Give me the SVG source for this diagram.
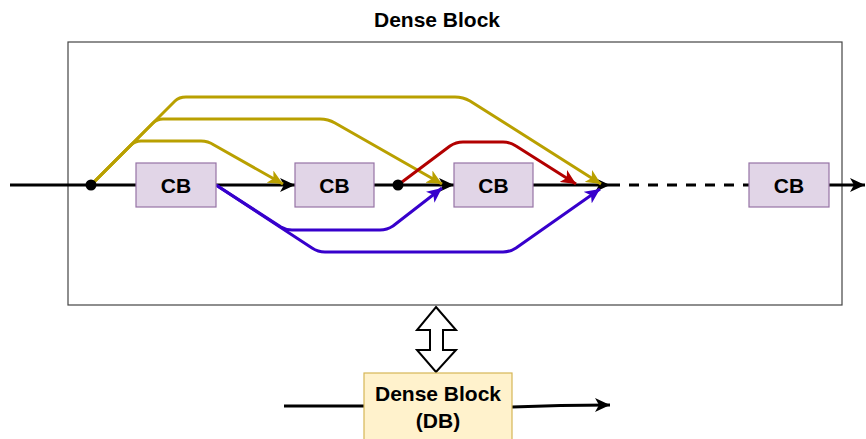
<svg xmlns="http://www.w3.org/2000/svg" width="866" height="439" viewBox="0 0 866 439">
<style>
.txt{font-family:"Liberation Sans",Arial,sans-serif;font-weight:bold;fill:#000;text-anchor:middle}
.cb{fill:#e1d5e7;stroke:#9673a6;stroke-width:1.2}
.k{fill:none;stroke:#000;stroke-width:3}
.y{fill:none;stroke:#b9a000;stroke-width:3;stroke-linejoin:round}
.r{fill:none;stroke:#b20000;stroke-width:3;stroke-linejoin:round}
.b{fill:none;stroke:#3700cc;stroke-width:3;stroke-linejoin:round}
</style>
<defs>
<marker id="ak" markerUnits="userSpaceOnUse" markerWidth="16" markerHeight="14" refX="15" refY="7" orient="auto"><path d="M0,0 L15,7 L0,14 L4,7 Z" fill="#000"/></marker>
<marker id="ay" markerUnits="userSpaceOnUse" markerWidth="16" markerHeight="14" refX="15" refY="7" orient="auto"><path d="M0,0 L15,7 L0,14 L4,7 Z" fill="#b9a000"/></marker>
<marker id="ar" markerUnits="userSpaceOnUse" markerWidth="16" markerHeight="14" refX="15" refY="7" orient="auto"><path d="M0,0 L15,7 L0,14 L4,7 Z" fill="#b20000"/></marker>
<marker id="ab" markerUnits="userSpaceOnUse" markerWidth="16" markerHeight="14" refX="15" refY="7" orient="auto"><path d="M0,0 L15,7 L0,14 L4,7 Z" fill="#3700cc"/></marker>
</defs>
<rect width="866" height="439" fill="#fff"/>
<g id="dense-block-container">
<rect x="68" y="42" width="774" height="263" fill="none" stroke="#444" stroke-width="1.2"/>
<text class="txt" x="437" y="27" font-size="21">Dense Block</text>
</g>
<g id="connectors">
<path class="k" d="M10,185 H136"/>
<path class="k" d="M216,185 H295" marker-end="url(#ak)"/>
<path class="k" d="M374,185 H454" marker-end="url(#ak)"/>
<path class="k" d="M533,185 H610" marker-end="url(#ak)"/>
<path class="k" d="M610,185 H749" stroke-dasharray="10 9"/>
<path class="k" d="M829,185 H865" marker-end="url(#ak)"/>
<path class="y" d="M91,185 L131,145 Q135,141 141,141 L201,141 Q208,141 214,145 L283,184" marker-end="url(#ay)"/>
<path class="y" d="M91,185 L153,123 Q157,119 163,119 L320,119 Q328,119 335,123 L442,184" marker-end="url(#ay)"/>
<path class="y" d="M91,185 L175,101 Q179,97 186,97 L455,97 Q463,97 470,101 L601,184" marker-end="url(#ay)"/>
<path class="r" d="M398,185 L450,146 Q456,142 463,142 L503,142 Q510,142 516,146 L576,184" marker-end="url(#ar)"/>
<path class="b" d="M216,185 L281,227 Q286,230 292,230 L380,230 Q387,230 393,226 L442,188" marker-end="url(#ab)"/>
<path class="b" d="M216,185 L312,248 Q318,252 325,252 L503,252 Q510,252 516,248 L600,189" marker-end="url(#ab)"/>
<circle cx="91" cy="185" r="5.5" fill="#000"/>
<circle cx="398" cy="185" r="5.5" fill="#000"/>
<polygon points="436,307 456,330 443,330 443,350 456,350 436,372 417,350 430,350 430,330 417,330" fill="#fff" stroke="#000" stroke-width="2"/>
<path class="k" d="M284,406 H364"/>
<path class="k" d="M512,407 Q560,405 610,405" marker-end="url(#ak)"/>
</g>
<g id="cb1"><rect class="cb" x="136" y="163" width="80" height="44"/><text class="txt" x="176" y="193" font-size="21">CB</text></g>
<g id="cb2"><rect class="cb" x="295" y="163" width="79" height="44"/><text class="txt" x="334.5" y="193" font-size="21">CB</text></g>
<g id="cb3"><rect class="cb" x="454" y="163" width="79" height="44"/><text class="txt" x="493.5" y="193" font-size="21">CB</text></g>
<g id="cb4"><rect class="cb" x="749" y="163" width="80" height="44"/><text class="txt" x="789" y="193" font-size="21">CB</text></g>
<g id="db"><rect x="364" y="373" width="148" height="72" fill="#fff2cc" stroke="#d6b656" stroke-width="1.2"/>
<text class="txt" x="438" y="401" font-size="21">Dense Block</text>
<text class="txt" x="438" y="428" font-size="21">(DB)</text></g>
</svg>
